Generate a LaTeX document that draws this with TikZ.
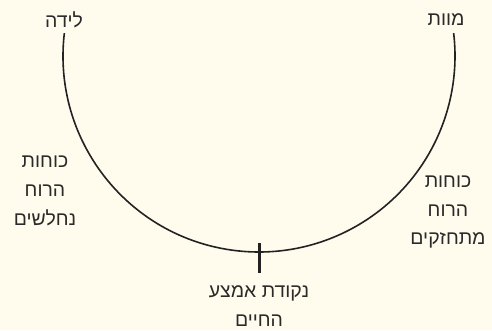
\documentclass[tikz,border=0pt]{standalone}
\usepackage{fontspec}
\newfontfamily\hebfont[Script=Hebrew]{Liberation Sans}
\TeXXeTstate=1
\definecolor{bg}{HTML}{FFFCEE}
\definecolor{ink}{HTML}{222222}
\definecolor{txt}{HTML}{2A2A2A}
\begin{document}
\begin{tikzpicture}[x=1bp,y=-1bp,
  lbl/.style={font=\hebfont\fontsize{19.5}{29}\selectfont, text=txt, align=center, inner sep=0pt},
  arcline/.style={draw=ink, line width=1.6bp},
  tick/.style={draw=ink, line width=3bp}]
\fill[bg] (0,0) rectangle (492,330);
\useasboundingbox (0,0) rectangle (492,330);
% circle center (259,56), r=196
\coordinate (c) at (259,56);
\draw[arcline] ([shift={(173.3:196bp)}]c) coordinate (birth)
  arc[start angle=173.3, end angle=366.7, radius=196bp] coordinate (death);
\coordinate (tt) at (259,243);
\coordinate (tb) at (259,273);
\draw[tick] (tt) -- (tb);
\node[lbl] (lbirth) at (64,20) {\beginR לידה\endR};
\node[lbl] (ldeath) at (446,20) {\beginR מוות\endR};
\node[lbl] (lweak) at (45,191) {\beginR כוחות\endR\\\beginR הרוח\endR\\\beginR נחלשים\endR};
\node[lbl] (lstrong) at (448,212) {\beginR כוחות\endR\\\beginR הרוח\endR\\\beginR מתחזקים\endR};
\node[lbl] (lmid) at (259,306) {\beginR נקודת אמצע\endR\\\beginR החיים\endR};
\end{tikzpicture}
\end{document}
